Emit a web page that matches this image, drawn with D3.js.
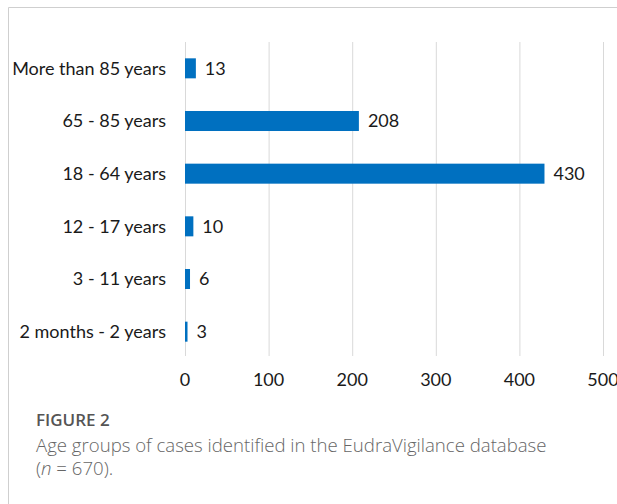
<!DOCTYPE html>
<html>
<head>
<meta charset="utf-8">
<script src="https://cdn.jsdelivr.net/npm/d3@7"></script>
<style>
  body { margin: 0; background: #fff; }
  svg { display: block; }
</style>
</head>
<body>
<div id="chart"></div>
<script>
var categories = ["More than 85 years", "65 - 85 years", "18 - 64 years",
                  "12 - 17 years", "3 - 11 years", "2 months - 2 years"];
var values = [13, 208, 430, 10, 6, 3];
var xTicks = [0, 100, 200, 300, 400, 500];
var figureLabel = "FIGURE 2";
var captionLines = ["Age groups of cases identified in the EudraVigilance database", "(n = 670)."];

var width = 617, height = 504;

var svg = d3.select("#chart").append("svg")
  .attr("width", width)
  .attr("height", height);

// frame
svg.append("path")
  .attr("d", "M8.5," + height + "V7.5H" + width)
  .attr("fill", "none")
  .attr("stroke", "#cfcfcf")
  .attr("stroke-width", 1);

var x = d3.scaleLinear()
  .domain([0, 500])
  .range([185, 603]);

var y = d3.scaleBand()
  .domain(categories)
  .range([42, 358])
  .paddingInner(0.62)
  .paddingOuter(0.31);

var font = "Lato, 'Open Sans', sans-serif";
var fs = 18;

// gridlines
svg.append("g")
  .selectAll("line")
  .data(xTicks)
  .enter().append("line")
  .attr("x1", function(d) { return x(d) + 0.5; })
  .attr("x2", function(d) { return x(d) + 0.5; })
  .attr("y1", 42)
  .attr("y2", 356)
  .attr("stroke", "#d9d9d9")
  .attr("stroke-width", 1);

// bars
svg.append("g")
  .selectAll("rect")
  .data(values)
  .enter().append("rect")
  .attr("x", x(0))
  .attr("y", function(d, i) { return y(categories[i]); })
  .attr("width", function(d) { return x(d) - x(0); })
  .attr("height", y.bandwidth())
  .attr("fill", "#0070c0");

// value labels
svg.append("g")
  .selectAll("text")
  .data(values)
  .enter().append("text")
  .attr("x", function(d) { return x(d) + 9; })
  .attr("y", function(d, i) { return y(categories[i]) + y.bandwidth() / 2; })
  .attr("dy", "0.35em")
  .attr("font-family", font)
  .attr("font-size", fs)
  .attr("fill", "#1a1a1a")
  .text(function(d) { return d; });

// category labels
svg.append("g")
  .selectAll("text")
  .data(categories)
  .enter().append("text")
  .attr("x", 166)
  .attr("y", function(d) { return y(d) + y.bandwidth() / 2; })
  .attr("dy", "0.35em")
  .attr("text-anchor", "end")
  .attr("font-family", font)
  .attr("font-size", fs)
  .attr("fill", "#1a1a1a")
  .text(function(d) { return d; });

// x tick labels (the last one runs off the edge, as in the original)
svg.append("g")
  .selectAll("text")
  .data(xTicks)
  .enter().append("text")
  .attr("x", x)
  .attr("y", 380)
  .attr("dy", "0.35em")
  .attr("text-anchor", "middle")
  .attr("font-family", font)
  .attr("font-size", fs)
  .attr("fill", "#1a1a1a")
  .text(function(d) { return d; });

// caption
var capFont = "'Open Sans', 'Noto Sans', sans-serif";
svg.append("text")
  .attr("x", 36)
  .attr("y", 426)
  .attr("font-family", capFont)
  .attr("font-size", 17)
  .attr("font-weight", 600)
  .attr("fill", "#555")
  .text(figureLabel);

svg.append("text")
  .attr("x", 36)
  .attr("y", 452)
  .attr("font-family", capFont)
  .attr("font-size", 18.6)
  .attr("font-weight", 300)
  .attr("fill", "#666")
  .text(captionLines[0]);

var last = svg.append("text")
  .attr("x", 36)
  .attr("y", 475)
  .attr("font-family", capFont)
  .attr("font-size", 18.6)
  .attr("font-weight", 300)
  .attr("fill", "#666");
last.append("tspan").text("(");
last.append("tspan").attr("font-style", "italic").text("n");
last.append("tspan").attr("xml:space", "preserve").text(" = 670).");
</script>
</body>
</html>
